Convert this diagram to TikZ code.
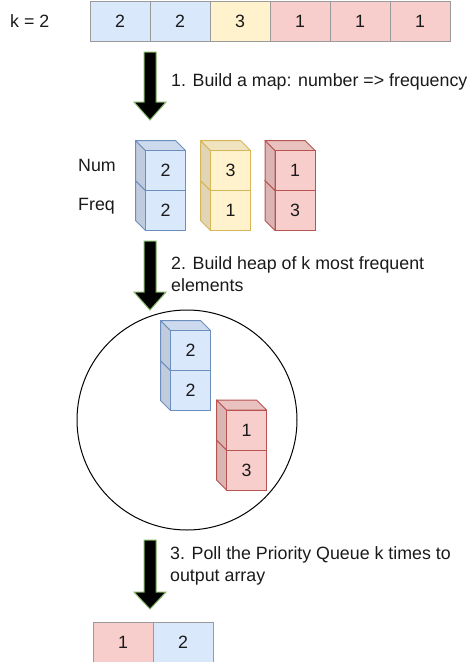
\documentclass[tikz,border=0pt]{standalone}
\usepackage{fontspec}
\setmainfont{Liberation Sans}
\definecolor{bfill}{HTML}{DAE8FC}\definecolor{bline}{HTML}{6C8EBF}
\definecolor{yfill}{HTML}{FFF2CC}\definecolor{yline}{HTML}{D6B656}
\definecolor{rfill}{HTML}{F8CECC}\definecolor{rline}{HTML}{B85450}
\definecolor{agreen}{HTML}{82B366}
\definecolor{txt}{HTML}{1A1A1A}
\definecolor{cellgray}{HTML}{9A9A9A}
\tikzset{
  basefont/.style={font=\fontsize{17.8}{21.5}\selectfont, text=txt},
  arrcell/.style={basefont, draw=cellgray, line width=1pt, minimum width=60pt, minimum height=40pt, inner sep=0pt},
  cubeface/.style={basefont, line width=1pt, minimum size=40pt, inner sep=0pt},
  lbl/.style={basefont, anchor=west, align=left, inner sep=0pt},
  blockarrow/.style={fill=black, draw=agreen, line width=1pt, line join=miter}
}
\newcommand{\mycube}[6]{%
  \filldraw[fill=#4!88!black, draw=#5, line width=1pt, line join=round]
    (#2-10,#3-10) -- (#2,#3) -- (#2,#3+40) -- (#2-10,#3+30) -- cycle;
  \filldraw[fill=#4!94!black, draw=#5, line width=1pt, line join=round]
    (#2-10,#3-10) -- (#2+30,#3-10) -- (#2+40,#3) -- (#2,#3) -- cycle;
  \node[cubeface, fill=#4, draw=#5] (#1) at (#2+20,#3+20) {#6};
}
\newcommand{\myarrow}[4]{%
  \coordinate (#1s) at (150,#2);
  \coordinate (#1e) at (150,#3);
  \filldraw[blockarrow] (#1s) ++(-6,0) -- ++(12,0) -- (150+6,#3-#4) -- (150+16,#3-#4) -- (#1e)
    -- (150-16,#3-#4) -- (150-6,#3-#4) -- cycle;
}
\begin{document}
\begin{tikzpicture}[x=1pt,y=-1pt]
\useasboundingbox (0,0) rectangle (472,662);

% top array
\node[lbl] (k) at (10,21) {k = 2};
\node[arrcell, fill=bfill] (t1) at (120,21) {2};
\node[arrcell, fill=bfill] (t2) at (180,21) {2};
\node[arrcell, fill=yfill] (t3) at (240,21) {3};
\node[arrcell, fill=rfill] (t4) at (300,21) {1};
\node[arrcell, fill=rfill] (t5) at (360,21) {1};
\node[arrcell, fill=rfill] (t6) at (420,21) {1};

% arrow 1
\myarrow{a1}{52}{120}{18}
\node[lbl] (l1) at (171,82) {1. Build a map: number => frequency};

% map stacks
\node[lbl] (num) at (78,165) {Num};
\node[lbl] (freq) at (78,206) {Freq};
\mycube{b2}{145.5}{190.5}{bfill}{bline}{2}
\mycube{b1}{145.5}{150.5}{bfill}{bline}{2}
\mycube{y2}{210.5}{190.5}{yfill}{yline}{1}
\mycube{y1}{210.5}{150.5}{yfill}{yline}{3}
\mycube{r2}{275}{190.5}{rfill}{rline}{3}
\mycube{r1}{275}{150.5}{rfill}{rline}{1}

% arrow 2
\myarrow{a2}{241}{310}{18}
\node[lbl] (l2) at (171,274) {2. Build heap of k most frequent\\elements};

% heap
\node[draw=black, line width=1pt, circle, minimum size=220pt, inner sep=0pt] (heap) at (187,420) {};
\mycube{hb2}{170.5}{370.5}{bfill}{bline}{2}
\mycube{hb1}{170.5}{330.5}{bfill}{bline}{2}
\mycube{hr2}{226.5}{450}{rfill}{rline}{3}
\mycube{hr1}{226.5}{410}{rfill}{rline}{1}

% arrow 3
\myarrow{a3}{540}{609}{17}
\node[lbl] (l3) at (170,566) {3. Poll the Priority Queue k times to\\output array};

% output array
\node[arrcell, fill=rfill] (o1) at (123,642) {1};
\node[arrcell, fill=bfill] (o2) at (183,642) {2};
\end{tikzpicture}
\end{document}
